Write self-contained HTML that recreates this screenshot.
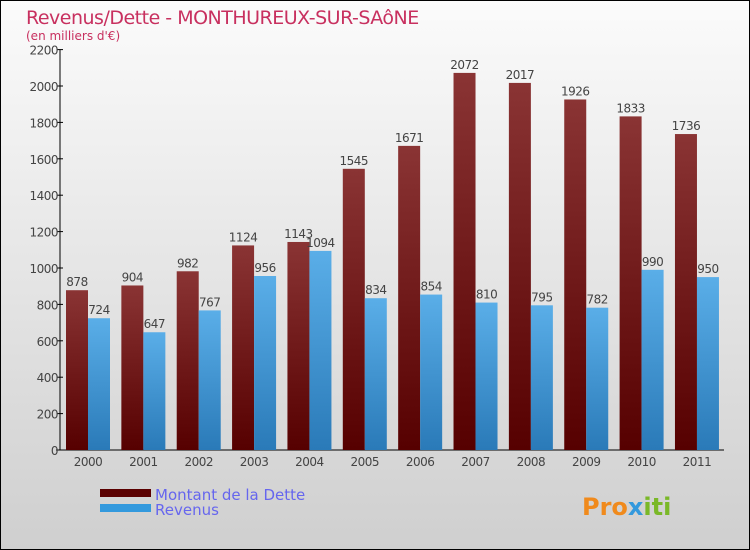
<!DOCTYPE html>
<html><head><meta charset="utf-8"><style>
body{margin:0;}
svg{display:block;font-family:"DejaVu Sans","Liberation Sans",sans-serif;}
</style></head><body>
<svg id="c" width="750" height="550" xmlns="http://www.w3.org/2000/svg">
<defs>
<linearGradient id="bg" x1="0" y1="0" x2="0" y2="1"><stop offset="0" stop-color="#fbfbfb"/><stop offset="1" stop-color="#cfcfcf"/></linearGradient>
<linearGradient id="gd" x1="0" y1="0" x2="0" y2="1"><stop offset="0" stop-color="#8a3434"/><stop offset="1" stop-color="#560000"/></linearGradient>
<linearGradient id="gr" x1="0" y1="0" x2="0" y2="1"><stop offset="0" stop-color="#5aaee8"/><stop offset="1" stop-color="#2a7ab8"/></linearGradient>
</defs>
<rect x="0.5" y="0.5" width="749" height="549" fill="url(#bg)" stroke="#000"/>
<text x="26" y="24" font-size="19" fill="#c8305f" style="letter-spacing:-0.5px">Revenus/Dette - MONTHUREUX-SUR-SAôNE</text>
<text x="26" y="40" font-size="12" fill="#c8305f">(en milliers d'€)</text>
<g id="plot"></g>
<rect x="100" y="489" width="51" height="8" fill="#5a0000"/>
<text x="155" y="500" font-size="15" fill="#6666ee">Montant de la Dette</text>
<rect x="100" y="504" width="51" height="8" fill="#3399dd"/>
<text x="155" y="515" font-size="15" fill="#6666ee">Revenus</text>
<text x="582" y="515" font-size="24" font-weight="bold" fill="#f08a1c">Pro<tspan fill="#3399dd">x</tspan><tspan fill="#7ab828">iti</tspan></text>
</svg>
<script>
const years=["2000","2001","2002","2003","2004","2005","2006","2007","2008","2009","2010","2011"];
const dette=[878,904,982,1124,1143,1545,1671,2072,2017,1926,1833,1736];
const revenus=[724,647,767,956,1094,834,854,810,795,782,990,950];
const yTicks=[0,200,400,600,800,1000,1200,1400,1600,1800,2000,2200];
const NS="http://www.w3.org/2000/svg";
const g=document.getElementById('plot');
const y0=450,scale=0.182,x0=88,step=55.36,axisX=60;
const Y=v=>y0-v*scale;
const X=i=>x0+i*step;
function mk(t,a,txt){const e=document.createElementNS(NS,t);for(const k in a)e.setAttribute(k,a[k]);if(txt!==undefined)e.textContent=txt;g.appendChild(e);return e;}
let e=mk('line',{x1:axisX,y1:Y(2200),x2:axisX,y2:y0,stroke:'#000'});


e=mk('line',{x1:axisX-4,y1:y0,x2:724,y2:y0,stroke:'#000'});


yTicks.forEach(v=>{
 let t=mk('line',{x1:axisX-3,y1:Y(v),x2:axisX+3,y2:Y(v),stroke:'#000'});
 
 
 let l=mk('text',{x:axisX-2,y:Y(v)+5,'font-size':12,fill:'#444','text-anchor':'end','letter-spacing':'-0.5'},v);
 
 
});
years.forEach((yr,i)=>{
 const c=X(i);
 let b=mk('rect',{x:c-22,y:Y(dette[i]),width:22,height:dette[i]*scale,fill:'url(#gd)'});
 
 
 let r=mk('rect',{x:c,y:Y(revenus[i]),width:22,height:revenus[i]*scale,fill:'url(#gr)'});
 
 
 let t1=mk('text',{x:c-11,y:Y(dette[i])-4,'font-size':12,fill:'#444','text-anchor':'middle','letter-spacing':'-0.5'},dette[i]);
 
 
 let t2=mk('text',{x:c+11,y:Y(revenus[i])-4,'font-size':12,fill:'#444','text-anchor':'middle','letter-spacing':'-0.5'},revenus[i]);
 
 
 let xl=mk('text',{x:c,y:466,'font-size':12,fill:'#444','text-anchor':'middle','letter-spacing':'-0.5'},yr);
 
 
});
</script>
</body></html>
